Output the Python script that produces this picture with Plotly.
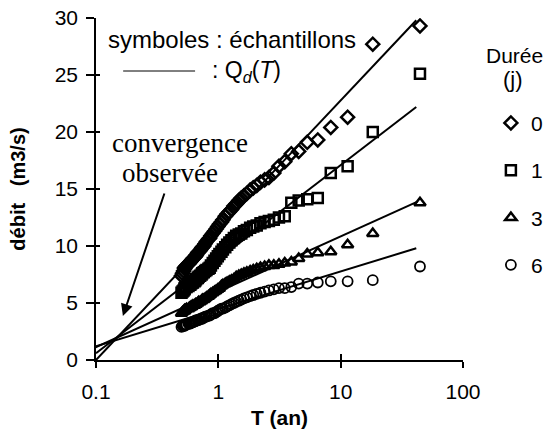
import plotly.graph_objects as go

# ---- data ----
T = [44.5, 18.3, 11.4, 8.3, 6.5, 5.33, 4.54, 3.95, 3.49, 3.13,
     2.84, 2.59, 2.39, 2.21, 2.06, 1.93, 1.82, 1.71, 1.62, 1.54,
     1.47, 1.40, 1.34, 1.28, 1.23, 1.18, 1.14, 1.09, 1.06, 1.02,
     0.99, 0.96, 0.93, 0.90, 0.87, 0.85, 0.83, 0.80, 0.78, 0.76,
     0.74, 0.73, 0.71, 0.69, 0.68, 0.66, 0.65, 0.64, 0.62, 0.61,
     0.60, 0.59, 0.58, 0.57, 0.55, 0.54, 0.53, 0.53, 0.52, 0.51, 0.50]

q_d0 = [29.3, 27.7, 21.3, 20.4, 19.3, 19.1, 18.3, 18.1, 17.4, 17.0,
        16.4, 16.0, 15.8, 15.6, 15.3, 15.1, 14.9, 14.6, 14.4, 14.2,
        14.0, 13.7, 13.5, 13.2, 13.0, 12.8, 12.6, 12.3, 12.1, 11.9,
        11.7, 11.5, 11.3, 11.1, 10.9, 10.7, 10.6, 10.4, 10.2, 10.0,
        9.9, 9.8, 9.6, 9.5, 9.4, 9.2, 9.1, 9.0, 8.9, 8.8,
        8.7, 8.6, 8.5, 8.4, 8.3, 8.2, 8.1, 8.0, 7.8, 7.6, 7.4]

q_d1 = [25.1, 20.0, 17.0, 16.4, 14.2, 14.1, 14.0, 13.8, 12.6, 12.5,
        12.3, 12.2, 12.1, 12.0, 11.8, 11.7, 11.6, 11.4, 11.3, 11.1,
        11.0, 10.9, 10.7, 10.5, 10.3, 10.1, 9.9, 9.7, 9.5, 9.3,
        9.1, 8.9, 8.7, 8.5, 8.3, 8.1, 8.0, 7.9, 7.8, 7.7,
        7.6, 7.5, 7.4, 7.3, 7.2, 7.1, 7.0, 6.9, 6.8, 6.8,
        6.7, 6.6, 6.6, 6.5, 6.4, 6.4, 6.3, 6.2, 6.1, 6.0, 5.9]

q_d3 = [13.8, 11.1, 10.1, 9.5, 9.4, 9.3, 8.9, 8.6, 8.5, 8.4,
        8.3, 8.3, 8.2, 8.1, 8.0, 7.9, 7.8, 7.7, 7.6, 7.5,
        7.4, 7.3, 7.1, 7.0, 6.9, 6.8, 6.7, 6.6, 6.5, 6.3,
        6.2, 6.1, 6.0, 5.9, 5.8, 5.7, 5.6, 5.5, 5.4, 5.3,
        5.3, 5.2, 5.1, 5.1, 5.0, 4.9, 4.9, 4.8, 4.8, 4.7,
        4.7, 4.6, 4.6, 4.5, 4.5, 4.4, 4.4, 4.3, 4.3, 4.2, 4.1]

q_d6 = [8.2, 7.0, 6.9, 6.9, 6.8, 6.7, 6.7, 6.4, 6.3, 6.3,
        6.2, 6.1, 6.0, 5.9, 5.8, 5.7, 5.6, 5.5, 5.4, 5.3,
        5.2, 5.1, 5.0, 4.9, 4.8, 4.7, 4.6, 4.5, 4.5, 4.4,
        4.3, 4.2, 4.1, 4.1, 4.0, 3.9, 3.9, 3.8, 3.8, 3.7,
        3.7, 3.6, 3.6, 3.5, 3.5, 3.5, 3.4, 3.4, 3.3, 3.3,
        3.3, 3.2, 3.2, 3.2, 3.1, 3.1, 3.1, 3.0, 3.0, 3.0, 2.9]

durations = ["0", "1", "3", "6"]
samples = [q_d0, q_d1, q_d3, q_d6]
symbols = ["diamond-open", "square-open", "triangle-up-open", "circle-open"]

# Qd(T) fitted lines: end points (T, Q)
line_T = [[0.1, 41.5], [0.1, 41.5], [0.09, 42.5], [0.081, 41.5]]
line_Q = [[0.0, 29.8], [0.6, 22.2], [0.9, 13.9], [0.9, 9.8]]

x_tickvals = [0.1, 1, 10, 100]
x_ticktext = ["0.1", "1", "10", "100"]

SANS = "Liberation Sans, Arial, sans-serif"
SERIF = "Liberation Serif, Times New Roman, serif"

fig = go.Figure()

for lt, lq in zip(line_T, line_Q):
    fig.add_trace(go.Scatter(x=lt, y=lq, mode="lines",
                             line=dict(color="black", width=2),
                             showlegend=False, hoverinfo="skip"))

for d, q, s in zip(durations, samples, symbols):
    fig.add_trace(go.Scatter(x=T, y=q, mode="markers", name=d, legendgroup=d,
                             marker=dict(symbol=s, size=10, color="black",
                                         line=dict(color="black",
                                                   width=2.5 if s != "circle-open" else 1.8))))

# invisible trace to carry the overlay axes (inside half of crossing ticks)
fig.add_trace(go.Scatter(x=[1], y=[1], xaxis="x2", yaxis="y2", mode="markers",
                         marker=dict(opacity=0), showlegend=False, hoverinfo="skip"))

fig.update_layout(
    width=548, height=429,
    margin=dict(l=96, r=85, t=18, b=69, autoexpand=False),
    paper_bgcolor="white", plot_bgcolor="white",
    font=dict(family=SANS, size=21, color="black"),
    xaxis=dict(type="log", range=[-1, 2], showgrid=False, zeroline=False,
               showline=True, linecolor="black", linewidth=1.5,
               ticks="outside", ticklen=6, tickwidth=1.5, tickcolor="black",
               tickvals=x_tickvals, ticktext=x_ticktext,
               tickfont=dict(size=21), ticklabelstandoff=6,
               title=dict(text="<b>T (an)</b>", font=dict(size=21), standoff=9)),
    yaxis=dict(range=[0, 30], dtick=5, showgrid=False, zeroline=False,
               showline=True, linecolor="black", linewidth=1.5,
               ticks="outside", ticklen=8, tickwidth=1.5, tickcolor="black",
               tickfont=dict(size=21), ticklabelstandoff=4,
               title=dict(text="<b>débit\u00a0\u00a0\u00a0(m3/s)</b>", font=dict(size=20), standoff=24)),
    xaxis2=dict(type="log", range=[-1, 2], overlaying="x", anchor="y2", side="bottom",
                showgrid=False, zeroline=False, showline=False,
                ticks="inside", ticklen=6, tickwidth=1.5, tickcolor="black",
                tickvals=x_tickvals, showticklabels=False),
    yaxis2=dict(range=[0, 30], dtick=5, overlaying="y", anchor="x2", side="left",
                showgrid=False, zeroline=False, showline=False,
                ticks="inside", ticklen=4, tickwidth=1.5, tickcolor="black",
                showticklabels=False),
    showlegend=True,
    legend=dict(x=1.076, y=0.752, xanchor="left", yanchor="top",
                bgcolor="rgba(0,0,0,0)", tracegroupgap=17,
                font=dict(size=21)),
)

# legend title (two centred lines)
fig.add_annotation(xref="paper", yref="paper", x=1.14, y=0.889, text="Durée",
                   showarrow=False, xanchor="center", yanchor="middle", font=dict(size=21))
fig.add_annotation(xref="paper", yref="paper", x=1.135, y=0.819, text="(j)",
                   showarrow=False, xanchor="center", yanchor="middle", font=dict(size=22))

# in-plot annotations
fig.add_annotation(xref="paper", yref="paper", x=0.026, y=0.936,
                   text="symboles : échantillons", showarrow=False,
                   xanchor="left", yanchor="middle", font=dict(size=24))
fig.add_shape(type="line", xref="paper", yref="paper", x0=0.074, x1=0.270,
              y0=0.845, y1=0.845, line=dict(color="black", width=1))
fig.add_annotation(xref="paper", yref="paper", x=0.31, y=0.845,
                   text=": Q<sub><i>d</i></sub>(<i>T</i>)", showarrow=False,
                   xanchor="left", yanchor="middle", font=dict(size=23))
fig.add_annotation(xref="paper", yref="paper", x=0.229, y=0.634,
                   text="convergence", showarrow=False,
                   xanchor="center", yanchor="middle", font=dict(family=SERIF, size=27))
fig.add_annotation(xref="paper", yref="paper", x=0.202, y=0.546,
                   text="observée", showarrow=False,
                   xanchor="center", yanchor="middle", font=dict(family=SERIF, size=27))
fig.add_annotation(xref="x", yref="y", x=-0.78, y=3.86, ax=42, ay=-124,
                   text="", showarrow=True, arrowhead=2, arrowsize=1.2,
                   arrowwidth=2, arrowcolor="black")

fig.write_html("out.html", config={"displayModeBar": False},
               post_script="document.body.style.margin='0';")
